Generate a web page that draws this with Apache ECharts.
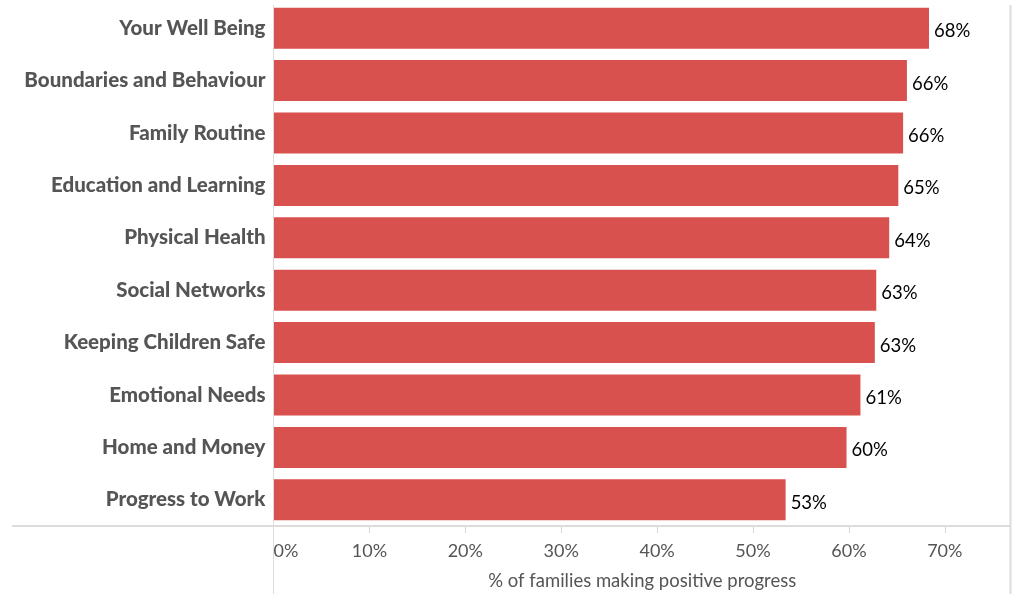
<!DOCTYPE html>
<html>
<head>
<meta charset="utf-8">
<script src="https://cdn.jsdelivr.net/npm/echarts@6/dist/echarts.min.js"></script>
<style>
html,body{margin:0;padding:0;background:#fff;}
#chart{width:1015px;height:594px;}
</style>
</head>
<body>
<div id="chart"></div>
<script>
var categories = ['Your Well Being','Boundaries and Behaviour','Family Routine','Education and Learning','Physical Health','Social Networks','Keeping Children Safe','Emotional Needs','Home and Money','Progress to Work']
var values = [68.35,66.05,65.65,65.15,64.2,62.85,62.7,61.2,59.75,53.4]
var tickValues = [0,10,20,30,40,50,60,70]
var axisTitle = '% of families making positive progress'

var chart = echarts.init(document.getElementById('chart'))

var option = {
    animation: false,
    grid: {
        left: 273.5,
        right: 4,
        top: 2,
        bottom: 68,
        outerBoundsMode: 'none'
    },
    xAxis: {
        type: 'value',
        min: 0,
        max: 76.9,
        name: axisTitle,
        nameLocation: 'middle',
        nameGap: 46,
        nameTextStyle: { color: '#555', fontSize: 18.5, fontFamily: 'Lato' },
        axisLine: { show: false },
        axisTick: {
            show: true,
            customValues: tickValues,
            length: 7,
            lineStyle: { color: '#d6d6d6' }
        },
        axisLabel: {
            customValues: tickValues,
            formatter: function (v) { return v + '%' },
            color: '#555',
            fontSize: 18,
            fontFamily: 'Lato',
            margin: 16,
            alignMinLabel: 'left'
        },
        splitLine: { show: false }
    },
    yAxis: {
        type: 'category',
        data: categories,
        inverse: true,
        axisLine: { show: false },
        axisTick: { show: false },
        axisLabel: {
            color: '#555',
            fontSize: 20.5,
            fontWeight: 900,
            fontFamily: 'Lato',
            margin: 8,
            padding: [6, 0, 0, 0]
        }
    },
    series: [{
        type: 'bar',
        data: values,
        barWidth: 41,
        itemStyle: { color: '#d9514e' },
        label: {
            show: true,
            position: 'right',
            distance: 5,
            offset: [0, 3],
            color: '#000',
            fontSize: 18.5,
            fontFamily: 'Lato',
            formatter: function (p) { return Math.round(p.value) + '%' }
        }
    }],
    graphic: [
        { type: 'line', shape: { x1: 12, y1: 526, x2: 1011, y2: 526 }, style: { stroke: '#dcdcdc', lineWidth: 2 }, z: 10 },
        { type: 'line', shape: { x1: 273.5, y1: 5, x2: 273.5, y2: 594 }, style: { stroke: '#dcdcdc', lineWidth: 1 }, z: 10 },
        { type: 'line', shape: { x1: 1010.5, y1: 5, x2: 1010.5, y2: 594 }, style: { stroke: '#dcdcdc', lineWidth: 2 }, z: 10 }
    ]
}

chart.setOption(option)
</script>
</body>
</html>
